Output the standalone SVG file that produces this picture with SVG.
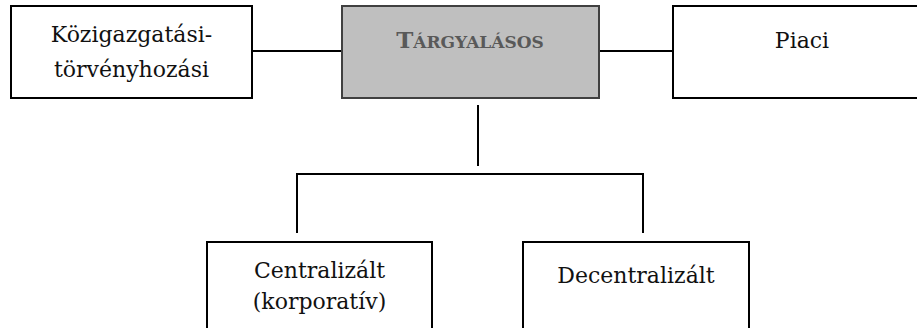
<svg xmlns="http://www.w3.org/2000/svg" width="917" height="328" viewBox="0 0 917 328">
<style>
.box{fill:#ffffff;stroke:#000000;stroke-width:2}
.main{fill:#bfbfbf;stroke:#404040;stroke-width:2}
.lbl{font-family:"DejaVu Serif","Liberation Serif",serif;font-size:22px;fill:#111111;text-anchor:middle}
.ttl{font-family:"DejaVu Serif","Liberation Serif",serif;font-weight:bold;fill:#595959;text-anchor:middle}
.ln{stroke:#000000;stroke-width:2;fill:none}
</style>
<rect width="917" height="328" fill="#ffffff"/>
<g id="connectors">
<line class="ln" x1="252" y1="51" x2="342" y2="51"/>
<line class="ln" x1="599" y1="51" x2="673" y2="51"/>
<line class="ln" x1="478" y1="105" x2="478" y2="166"/>
<polyline class="ln" points="297,233 297,174 643,174 643,233"/>
</g>
<g id="node-kozigazgatasi">
<rect class="box" x="11" y="6" width="241" height="92"/>
<text class="lbl" x="131.5" y="42">Közigazgatási-</text>
<text class="lbl" x="131.5" y="77">törvényhozási</text>
</g>
<g id="node-targyalasos">
<rect class="main" x="342" y="6" width="257" height="92"/>
<text class="ttl" x="470" y="48"><tspan font-size="23">T</tspan><tspan font-size="17">ÁRGYALÁSOS</tspan></text>
</g>
<g id="node-piaci">
<rect class="box" x="673" y="6" width="258" height="92"/>
<text class="lbl" x="802" y="48">Piaci</text>
</g>
<g id="node-centralizalt">
<rect class="box" x="207" y="242" width="225" height="100"/>
<text class="lbl" x="319.5" y="278">Centralizált</text>
<text class="lbl" x="319.5" y="309">(korporatív)</text>
</g>
<g id="node-decentralizalt">
<rect class="box" x="523" y="242" width="226" height="100"/>
<text class="lbl" x="636" y="283">Decentralizált</text>
</g>
</svg>
